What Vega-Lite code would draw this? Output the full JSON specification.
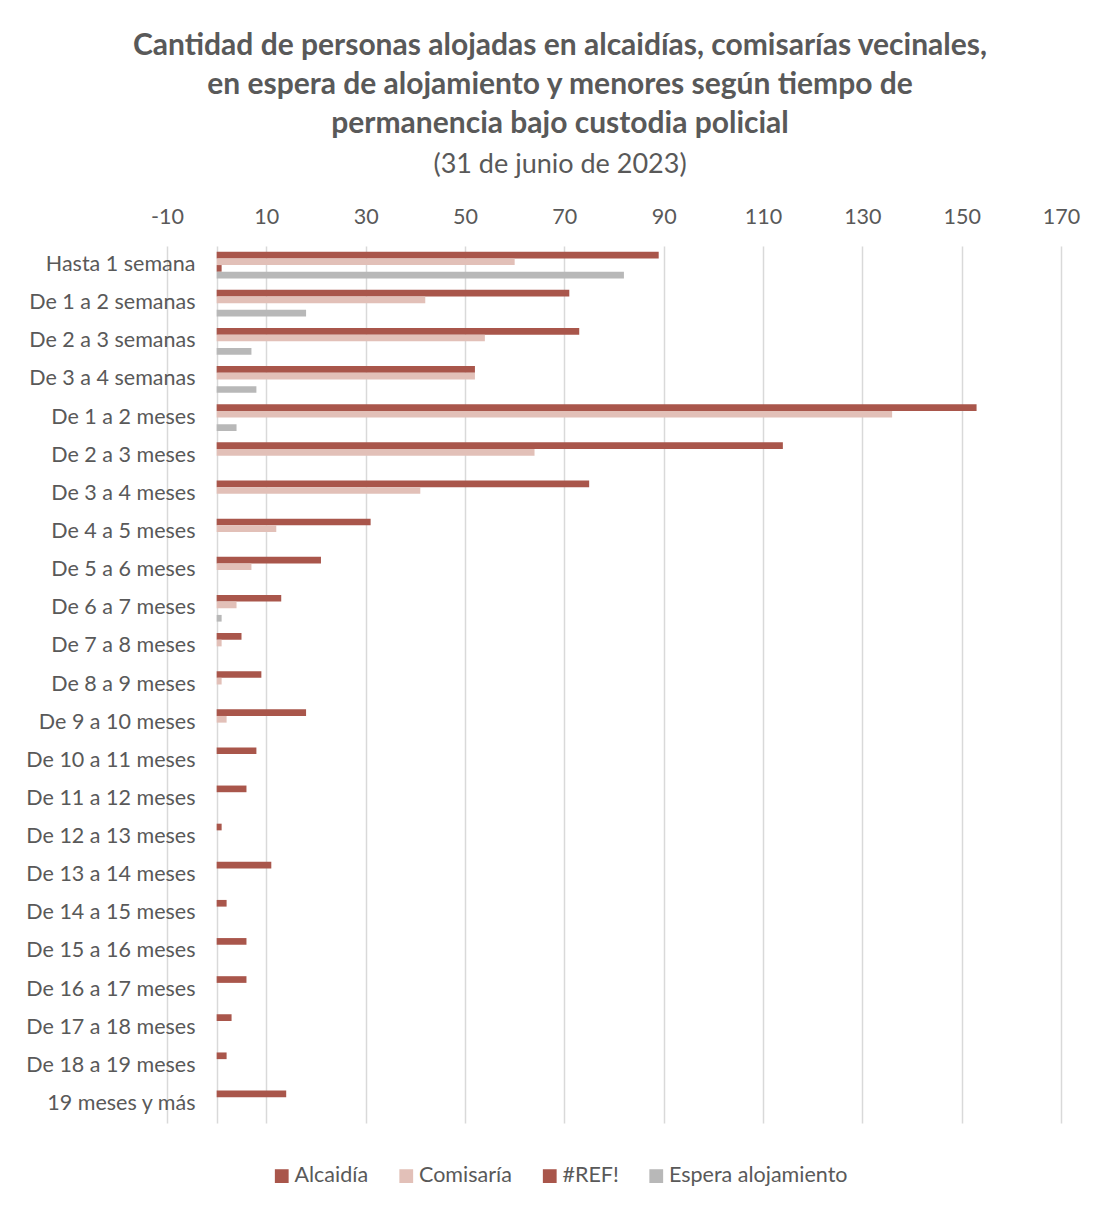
{
  "$schema": "https://vega.github.io/schema/vega-lite/v6.json",
  "autosize": {"type": "none"},
  "width": 894,
  "height": 877,
  "padding": {"left": 167, "top": 246, "right": 41, "bottom": 84},
  "background": "white",
  "config": {
    "view": {"stroke": null},
    "font": "Lato",
    "axis": {"labelFont": "Lato", "labelColor": "#595959"},
    "legend": {"labelFont": "Lato", "labelColor": "#595959"}
  },
  "title": {
    "text": ["Cantidad de personas alojadas en alcaidías, comisarías vecinales,", "en espera de alojamiento y menores según tiempo de", "permanencia bajo custodia policial"],
    "subtitle": "(31 de junio de 2023)",
    "anchor": "middle",
    "frame": "group",
    "dx": -54,
    "font": "Lato",
    "fontSize": 30,
    "fontWeight": "bold",
    "color": "#595959",
    "lineHeight": 39,
    "subtitleFont": "Lato",
    "subtitleFontSize": 27,
    "subtitleColor": "#595959",
    "subtitlePadding": 13,
    "offset": 28
  },
  "data": {
    "values": [
      {"cat": "Hasta 1 semana", "series": "Alcaidía", "value": 89},
      {"cat": "Hasta 1 semana", "series": "Comisaría", "value": 60},
      {"cat": "Hasta 1 semana", "series": "#REF!", "value": 1},
      {"cat": "Hasta 1 semana", "series": "Espera alojamiento", "value": 82},
      {"cat": "De 1 a 2 semanas", "series": "Alcaidía", "value": 71},
      {"cat": "De 1 a 2 semanas", "series": "Comisaría", "value": 42},
      {"cat": "De 1 a 2 semanas", "series": "Espera alojamiento", "value": 18},
      {"cat": "De 2 a 3 semanas", "series": "Alcaidía", "value": 73},
      {"cat": "De 2 a 3 semanas", "series": "Comisaría", "value": 54},
      {"cat": "De 2 a 3 semanas", "series": "Espera alojamiento", "value": 7},
      {"cat": "De 3 a 4 semanas", "series": "Alcaidía", "value": 52},
      {"cat": "De 3 a 4 semanas", "series": "Comisaría", "value": 52},
      {"cat": "De 3 a 4 semanas", "series": "Espera alojamiento", "value": 8},
      {"cat": "De 1 a 2 meses", "series": "Alcaidía", "value": 153},
      {"cat": "De 1 a 2 meses", "series": "Comisaría", "value": 136},
      {"cat": "De 1 a 2 meses", "series": "Espera alojamiento", "value": 4},
      {"cat": "De 2 a 3 meses", "series": "Alcaidía", "value": 114},
      {"cat": "De 2 a 3 meses", "series": "Comisaría", "value": 64},
      {"cat": "De 3 a 4 meses", "series": "Alcaidía", "value": 75},
      {"cat": "De 3 a 4 meses", "series": "Comisaría", "value": 41},
      {"cat": "De 4 a 5 meses", "series": "Alcaidía", "value": 31},
      {"cat": "De 4 a 5 meses", "series": "Comisaría", "value": 12},
      {"cat": "De 5 a 6 meses", "series": "Alcaidía", "value": 21},
      {"cat": "De 5 a 6 meses", "series": "Comisaría", "value": 7},
      {"cat": "De 6 a 7 meses", "series": "Alcaidía", "value": 13},
      {"cat": "De 6 a 7 meses", "series": "Comisaría", "value": 4},
      {"cat": "De 6 a 7 meses", "series": "Espera alojamiento", "value": 1},
      {"cat": "De 7 a 8 meses", "series": "Alcaidía", "value": 5},
      {"cat": "De 7 a 8 meses", "series": "Comisaría", "value": 1},
      {"cat": "De 8 a 9 meses", "series": "Alcaidía", "value": 9},
      {"cat": "De 8 a 9 meses", "series": "Comisaría", "value": 1},
      {"cat": "De 9 a 10 meses", "series": "Alcaidía", "value": 18},
      {"cat": "De 9 a 10 meses", "series": "Comisaría", "value": 2},
      {"cat": "De 10 a 11 meses", "series": "Alcaidía", "value": 8},
      {"cat": "De 11 a 12 meses", "series": "Alcaidía", "value": 6},
      {"cat": "De 12 a 13 meses", "series": "Alcaidía", "value": 1},
      {"cat": "De 13 a 14 meses", "series": "Alcaidía", "value": 11},
      {"cat": "De 14 a 15 meses", "series": "Alcaidía", "value": 2},
      {"cat": "De 15 a 16 meses", "series": "Alcaidía", "value": 6},
      {"cat": "De 16 a 17 meses", "series": "Alcaidía", "value": 6},
      {"cat": "De 17 a 18 meses", "series": "Alcaidía", "value": 3},
      {"cat": "De 18 a 19 meses", "series": "Alcaidía", "value": 2},
      {"cat": "19 meses y más", "series": "Alcaidía", "value": 14}
    ]
  },
  "mark": {"type": "bar"},
  "encoding": {
    "y": {
      "field": "cat",
      "type": "nominal",
      "sort": ["Hasta 1 semana", "De 1 a 2 semanas", "De 2 a 3 semanas", "De 3 a 4 semanas", "De 1 a 2 meses", "De 2 a 3 meses", "De 3 a 4 meses", "De 4 a 5 meses", "De 5 a 6 meses", "De 6 a 7 meses", "De 7 a 8 meses", "De 8 a 9 meses", "De 9 a 10 meses", "De 10 a 11 meses", "De 11 a 12 meses", "De 12 a 13 meses", "De 13 a 14 meses", "De 14 a 15 meses", "De 15 a 16 meses", "De 16 a 17 meses", "De 17 a 18 meses", "De 18 a 19 meses", "19 meses y más"],
      "scale": {"paddingInner": 0.3, "paddingOuter": 0.15},
      "axis": {
        "title": null,
        "offset": -50,
        "ticks": false,
        "grid": false,
        "domain": true,
        "domainColor": "#D9D9D9",
        "domainWidth": 1.5,
        "labelFontSize": 21.5,
        "labelPadding": 22,
        "labelLimit": 400
      }
    },
    "yOffset": {
      "field": "series",
      "type": "nominal",
      "sort": ["Alcaidía", "Comisaría", "#REF!", "Espera alojamiento"],
      "scale": {"domain": ["Alcaidía", "Comisaría", "#REF!", "Espera alojamiento"], "paddingInner": 0, "paddingOuter": 0}
    },
    "x": {
      "field": "value",
      "type": "quantitative",
      "scale": {"domain": [-10, 170], "nice": false, "zero": false},
      "axis": {
        "orient": "top",
        "title": null,
        "values": [-10, 10, 30, 50, 70, 90, 110, 130, 150, 170],
        "labelExpr": "'' + datum.value",
        "labelFlush": false,
        "labelOverlap": false,
        "grid": true,
        "gridColor": "#D9D9D9",
        "gridWidth": 1.5,
        "domain": false,
        "ticks": false,
        "labelFontSize": 21.5,
        "labelPadding": 18
      }
    },
    "color": {
      "field": "series",
      "type": "nominal",
      "scale": {"domain": ["Alcaidía", "Comisaría", "#REF!", "Espera alojamiento"], "range": ["#A9564B", "#E2C0B8", "#A9564B", "#B8B8B8"]},
      "legend": {
        "title": null,
        "orient": "none",
        "legendX": 104,
        "legendY": 919,
        "direction": "horizontal",
        "symbolType": "square",
        "symbolSize": 190,
        "symbolStrokeWidth": 0,
        "labelFontSize": 21.5,
        "labelOffset": 2,
        "labelLimit": 400,
        "columnPadding": 26.5
      }
    }
  }
}
